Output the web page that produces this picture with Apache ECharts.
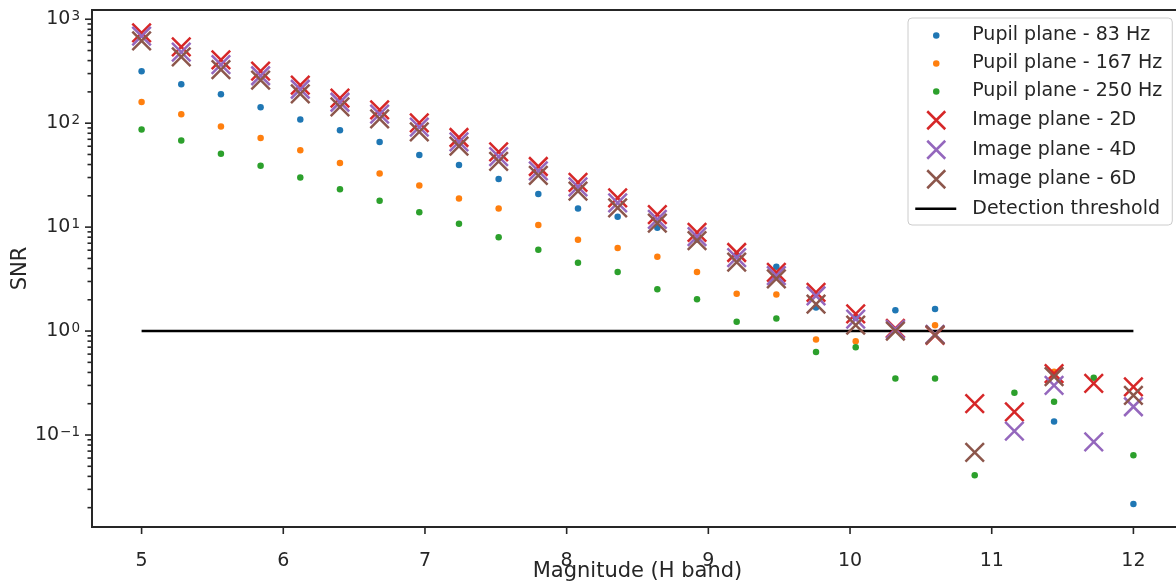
<!DOCTYPE html>
<html><head><meta charset="utf-8">
<script src="https://cdn.jsdelivr.net/npm/echarts@6/dist/echarts.min.js"></script>
<style>html,body{margin:0;padding:0;background:#fff}#c{width:1176px;height:587px}</style>
</head><body><div id="c"></div>
<script>
// ---- data ----
const magnitude = [5, 5.28, 5.56, 5.84, 6.12, 6.4, 6.68, 6.96, 7.24, 7.52, 7.8, 8.08, 8.36, 8.64, 8.92, 9.2, 9.48, 9.76, 10.04, 10.32, 10.6, 10.88, 11.16, 11.44, 11.72, 12];
const pupil83  = [316, 237, 190, 142, 108.6, 85.7, 66, 49.3, 39.5, 29, 20.8, 15.1, 12.6, 9.85, 7.6, 5.4, 4.15, 1.69, 1.35, 1.59, 1.63, null, null, 0.135, null, 0.0217];
const pupil167 = [160, 122, 93, 72, 55, 41.5, 32.8, 25.2, 18.9, 15.1, 10.5, 7.55, 6.3, 5.2, 3.69, 2.28, 2.25, 0.83, 0.80, null, 1.14, null, null, 0.406, null, null];
const pupil250 = [87, 68, 50.7, 38.9, 30, 23.2, 17.9, 13.9, 10.8, 8.0, 6.05, 4.54, 3.7, 2.53, 2.02, 1.23, 1.32, 0.63, 0.70, 0.35, 0.35, 0.041, 0.255, 0.209, 0.356, 0.064];
const image2D  = [740, 542, 406, 316, 232, 174, 134, 100.7, 72.8, 53, 38.3, 26.9, 19.1, 13.2, 8.9, 5.7, 3.67, 2.36, 1.46, 1.06, 0.91, 0.20, 0.167, 0.39, 0.314, 0.29];
const image4D  = [687, 482, 366, 286, 212, 159, 122, 91.5, 66, 47.7, 34.7, 24.4, 17.1, 11.9, 8.1, 5.1, 3.42, 2.18, 1.30, 1.04, 0.93, null, 0.109, 0.30, 0.086, 0.187];
const image6D  = [618, 434, 328, 259, 191, 143.5, 110, 82.5, 60, 42.8, 31.4, 22.2, 15.3, 10.9, 7.4, 4.6, 3.18, 1.82, 1.14, 1.0, 0.92, 0.068, null, 0.364, null, 0.24];
const thresholdX = [5, 12];
const thresholdY = [1, 1];
const xTicks = [5, 6, 7, 8, 9, 10, 11, 12];
const yMajorTicks = [0.1, 1, 10, 100, 1000];
const yMinorTicks = [0.02, 0.03, 0.04, 0.05, 0.06, 0.07, 0.08, 0.09,
  0.2, 0.3, 0.4, 0.5, 0.6, 0.7, 0.8, 0.9, 2, 3, 4, 5, 6, 7, 8, 9,
  20, 30, 40, 50, 60, 70, 80, 90, 200, 300, 400, 500, 600, 700, 800, 900];

const X_MIN = 4.65, X_MAX = 12.35, Y_MIN = 0.01303, Y_MAX = 1227;
const INK = '#262626';
const FONT = 'DejaVu Sans';

const COLORS = {p83:'#1f77b4', p167:'#ff7f0e', p250:'#2ca02c', i2:'#d62728', i4:'#9467bd', i6:'#8c564b'};
const X_SYMBOL = 'path://M0,0L10,10M10,0L0,10';
const LEG_DOT = 'path://M0,0M52,18M17.75,9a3.25,3.25 0 1 0 6.5,0a3.25,3.25 0 1 0 -6.5,0Z';
const LEG_X = 'path://M0,0M52,18M12,0L30,18M30,0L12,18';
const LEG_LINE = 'path://M0,0M52,18M0,9L41,9';

function pairs(vals) {
  const out = [];
  magnitude.forEach((m, i) => { if (vals[i] != null) out.push([m, vals[i]]); });
  return out;
}
function dotSeries(name, vals, color) {
  return {name, type:'scatter', data: pairs(vals), symbol:'circle', symbolSize: 6.5,
    itemStyle:{color: color, opacity: 1}, z: 2, silent: true};
}
function crossSeries(name, vals, color) {
  return {name, type:'scatter', data: pairs(vals), symbol: X_SYMBOL, symbolSize: 18.5,
    itemStyle:{color: color, borderColor: color, borderWidth: 2.5, opacity: 1}, z: 3, silent: true};
}
function tickSeries(data, dir) {
  return {type:'custom', silent:true, clip:false, z: 6, data: data,
    renderItem: (params, api) => {
      const p = api.coord([api.value(0), api.value(1)]);
      const len = api.value(2);
      const shape = dir === 'y'
        ? {x1: p[0] - len, y1: p[1], x2: p[0], y2: p[1]}
        : {x1: p[0], y1: p[1], x2: p[0], y2: p[1] + len};
      return {type:'line', shape, style:{stroke: INK, lineWidth: 1.6}};
    }};
}

const chart = echarts.init(document.getElementById('c'), null, {renderer:'canvas'});
chart.setOption({
  animation: false,
  backgroundColor: '#ffffff',
  grid: {left: 92, right: -7, top: 10, bottom: 60, show: true, borderColor: INK, borderWidth: 1.8,
    containLabel: false, outerBoundsMode: 'none'},
  xAxis: {
    type: 'value', min: X_MIN, max: X_MAX, splitNumber: 8,
    name: 'Magnitude (H band)', nameLocation: 'middle', nameGap: 34, nameMoveOverlap: false,
    nameTextStyle: {fontFamily: FONT, fontSize: 21, color: INK},
    axisLine: {show: true, lineStyle: {color: INK, width: 1.8}},
    axisTick: {show: false}, splitLine: {show: false},
    axisLabel: {margin: 25, fontFamily: FONT, fontSize: 19, color: INK,
      formatter: v => Math.abs(v - Math.round(v)) < 1e-9 ? String(Math.round(v)) : ''}
  },
  yAxis: {
    type: 'log', logBase: 10, min: Y_MIN, max: Y_MAX,
    name: 'SNR', nameLocation: 'middle', nameGap: 61, nameMoveOverlap: false,
    nameTextStyle: {fontFamily: FONT, fontSize: 21, color: INK},
    axisLine: {show: true, lineStyle: {color: INK, width: 1.8}},
    axisTick: {show: false}, splitLine: {show: false}, minorTick: {show: false},
    axisLabel: {margin: 12, color: INK,
      formatter: v => {
        const e = Math.log10(v), r = Math.round(e);
        if (Math.abs(e - r) > 1e-6) return '';
        return '{b|10}{s|' + (r < 0 ? '\u2212' + (-r) : String(r)) + '}';
      },
      rich: {
        b: {fontFamily: FONT, fontSize: 19, color: INK, lineHeight: 20},
        s: {fontFamily: FONT, fontSize: 13.5, color: INK, lineHeight: 14, verticalAlign: 'top', padding: [0, 0, 0, 1]}
      }
    }
  },
  legend: {
    orient: 'vertical', left: 908, top: 18,
    padding: [8, 10, 6, 6], itemWidth: 52, itemHeight: 18, itemGap: 9,
    backgroundColor: 'rgba(255,255,255,0.8)', borderColor: '#cccccc', borderWidth: 1, borderRadius: 4,
    textStyle: {fontFamily: FONT, fontSize: 19, color: INK, lineHeight: 19},
    selectedMode: false,
    data: [
      {name: 'Pupil plane - 83 Hz', icon: LEG_DOT, itemStyle: {color: COLORS.p83, borderWidth: 0, opacity: 1}},
      {name: 'Pupil plane - 167 Hz', icon: LEG_DOT, itemStyle: {color: COLORS.p167, borderWidth: 0, opacity: 1}},
      {name: 'Pupil plane - 250 Hz', icon: LEG_DOT, itemStyle: {color: COLORS.p250, borderWidth: 0, opacity: 1}},
      {name: 'Image plane - 2D', icon: LEG_X, itemStyle: {color: COLORS.i2, borderColor: COLORS.i2, borderWidth: 2.5, opacity: 1}},
      {name: 'Image plane - 4D', icon: LEG_X, itemStyle: {color: COLORS.i4, borderColor: COLORS.i4, borderWidth: 2.5, opacity: 1}},
      {name: 'Image plane - 6D', icon: LEG_X, itemStyle: {color: COLORS.i6, borderColor: COLORS.i6, borderWidth: 2.5, opacity: 1}},
      {name: 'Detection threshold', icon: LEG_LINE, itemStyle: {color: '#000000', borderColor: '#000000', borderWidth: 2.5, opacity: 1}}
    ]
  },
  series: [
    {name: 'Detection threshold', type: 'line', data: thresholdX.map((x, i) => [x, thresholdY[i]]),
      showSymbol: false, symbol: 'none', lineStyle: {color: '#000000', width: 2.5}, itemStyle: {color: '#000000'}, z: 1, silent: true},
    dotSeries('Pupil plane - 83 Hz', pupil83, COLORS.p83),
    dotSeries('Pupil plane - 167 Hz', pupil167, COLORS.p167),
    dotSeries('Pupil plane - 250 Hz', pupil250, COLORS.p250),
    crossSeries('Image plane - 2D', image2D, COLORS.i2),
    crossSeries('Image plane - 4D', image4D, COLORS.i4),
    crossSeries('Image plane - 6D', image6D, COLORS.i6),
    tickSeries(yMajorTicks.map(v => [X_MIN, v, 7]), 'y'),
    tickSeries(yMinorTicks.map(v => [X_MIN, v, 4.5]), 'y'),
    tickSeries(xTicks.map(v => [v, Y_MIN, 7]), 'x')
  ]
});
</script></body></html>
